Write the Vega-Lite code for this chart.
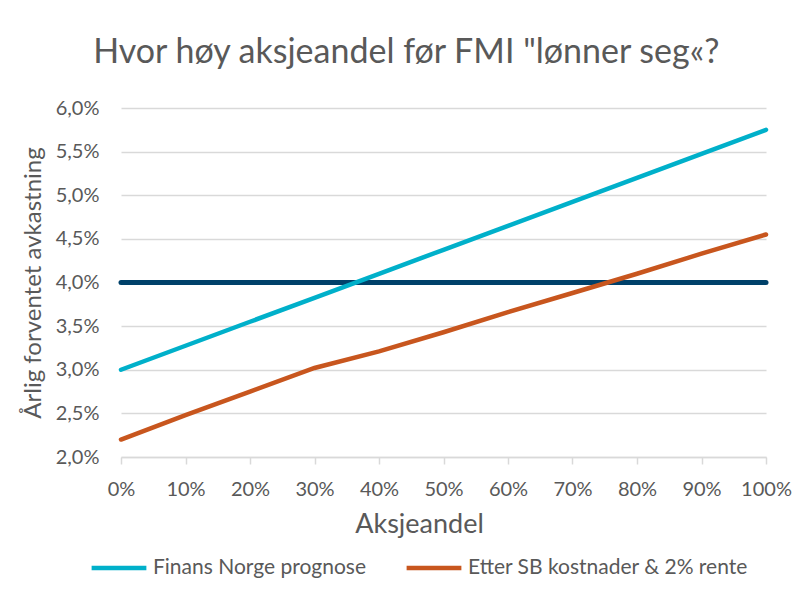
{
  "$schema": "https://vega.github.io/schema/vega-lite/v6.json",
  "width": 645,
  "height": 349,
  "padding": {"left": 21, "top": 36, "right": 20, "bottom": 10},
  "background": "white",
  "title": {
    "text": "Hvor høy aksjeandel før FMI \"lønner seg«?",
    "font": "Lato",
    "fontSize": 34,
    "fontWeight": "normal",
    "color": "#595959",
    "anchor": "middle",
    "frame": "bounds",
    "offset": 28
  },
  "datasets": {
    "series": [
      {"aksjeandel": 0, "serie": "Finans Norge prognose", "avkastning": 0.03},
      {"aksjeandel": 0.1, "serie": "Finans Norge prognose", "avkastning": 0.03275},
      {"aksjeandel": 0.2, "serie": "Finans Norge prognose", "avkastning": 0.0355},
      {"aksjeandel": 0.3, "serie": "Finans Norge prognose", "avkastning": 0.03825},
      {"aksjeandel": 0.4, "serie": "Finans Norge prognose", "avkastning": 0.041},
      {"aksjeandel": 0.5, "serie": "Finans Norge prognose", "avkastning": 0.04375},
      {"aksjeandel": 0.6, "serie": "Finans Norge prognose", "avkastning": 0.0465},
      {"aksjeandel": 0.7, "serie": "Finans Norge prognose", "avkastning": 0.04925},
      {"aksjeandel": 0.8, "serie": "Finans Norge prognose", "avkastning": 0.052},
      {"aksjeandel": 0.9, "serie": "Finans Norge prognose", "avkastning": 0.05475},
      {"aksjeandel": 1.0, "serie": "Finans Norge prognose", "avkastning": 0.0575},
      {"aksjeandel": 0, "serie": "Etter SB kostnader & 2% rente", "avkastning": 0.022},
      {"aksjeandel": 0.1, "serie": "Etter SB kostnader & 2% rente", "avkastning": 0.0248},
      {"aksjeandel": 0.2, "serie": "Etter SB kostnader & 2% rente", "avkastning": 0.0275},
      {"aksjeandel": 0.3, "serie": "Etter SB kostnader & 2% rente", "avkastning": 0.0302},
      {"aksjeandel": 0.4, "serie": "Etter SB kostnader & 2% rente", "avkastning": 0.0321},
      {"aksjeandel": 0.5, "serie": "Etter SB kostnader & 2% rente", "avkastning": 0.0343},
      {"aksjeandel": 0.6, "serie": "Etter SB kostnader & 2% rente", "avkastning": 0.0366},
      {"aksjeandel": 0.7, "serie": "Etter SB kostnader & 2% rente", "avkastning": 0.0388},
      {"aksjeandel": 0.8, "serie": "Etter SB kostnader & 2% rente", "avkastning": 0.041},
      {"aksjeandel": 0.9, "serie": "Etter SB kostnader & 2% rente", "avkastning": 0.0433},
      {"aksjeandel": 1.0, "serie": "Etter SB kostnader & 2% rente", "avkastning": 0.0455}
    ],
    "terskel": [
      {"aksjeandel": 0, "avkastning": 0.04},
      {"aksjeandel": 1.0, "avkastning": 0.04}
    ]
  },
  "encoding": {
    "x": {
      "field": "aksjeandel",
      "type": "quantitative",
      "title": "Aksjeandel",
      "scale": {"domain": [0, 1], "nice": false},
      "axis": {
        "values": [0, 0.1, 0.2, 0.3, 0.4, 0.5, 0.6, 0.7, 0.8, 0.9, 1.0],
        "format": ".0%",
        "grid": false,
        "labelFlush": false,
        "domainColor": "#D9D9D9",
        "domainWidth": 1.5,
        "tickColor": "#D9D9D9",
        "tickWidth": 1.5,
        "tickSize": 7,
        "labelPadding": 15,
        "labelFontSize": 20,
        "titleFontSize": 27,
        "titlePadding": 12,
        "titleX": 298
      }
    },
    "y": {
      "field": "avkastning",
      "type": "quantitative",
      "title": "Årlig forventet avkastning",
      "scale": {"domain": [0.02, 0.06], "nice": false},
      "axis": {
        "values": [0.02, 0.025, 0.03, 0.035, 0.04, 0.045, 0.05, 0.055, 0.06],
        "labelExpr": "replace(format(datum.value, '.1%'), '.', ',')",
        "labelFlush": false,
        "domain": false,
        "ticks": false,
        "grid": true,
        "gridColor": "#D9D9D9",
        "gridWidth": 1.5,
        "labelPadding": 22,
        "labelFontSize": 20,
        "titleFontSize": 24,
        "titlePadding": 10
      }
    }
  },
  "layer": [
    {
      "data": {"name": "terskel"},
      "mark": {"type": "line", "color": "#00416A", "strokeWidth": 5, "strokeCap": "round"},
      "encoding": {}
    },
    {
      "data": {"name": "series"},
      "mark": {"type": "line", "strokeWidth": 4.5, "strokeCap": "round"},
      "encoding": {
        "color": {
          "field": "serie",
          "type": "nominal",
          "sort": ["Finans Norge prognose", "Etter SB kostnader & 2% rente"],
          "scale": {
            "domain": ["Finans Norge prognose", "Etter SB kostnader & 2% rente"],
            "range": ["#00B0CA", "#C8561E"]
          },
          "legend": {
            "title": null,
            "orient": "none",
            "legendX": -32,
            "legendY": 430,
            "direction": "horizontal",
            "symbolType": "stroke",
            "symbolSize": 3000,
            "symbolStrokeWidth": 4.5,
            "labelFontSize": 21,
            "labelLimit": 0,
            "columnPadding": 30
          }
        }
      }
    }
  ],
  "config": {
    "font": "Lato",
    "view": {"stroke": null},
    "axis": {
      "labelColor": "#595959",
      "titleColor": "#595959",
      "labelFont": "Lato",
      "titleFont": "Lato",
      "titleFontWeight": "normal"
    },
    "legend": {"labelColor": "#595959", "labelFont": "Lato"}
  }
}
